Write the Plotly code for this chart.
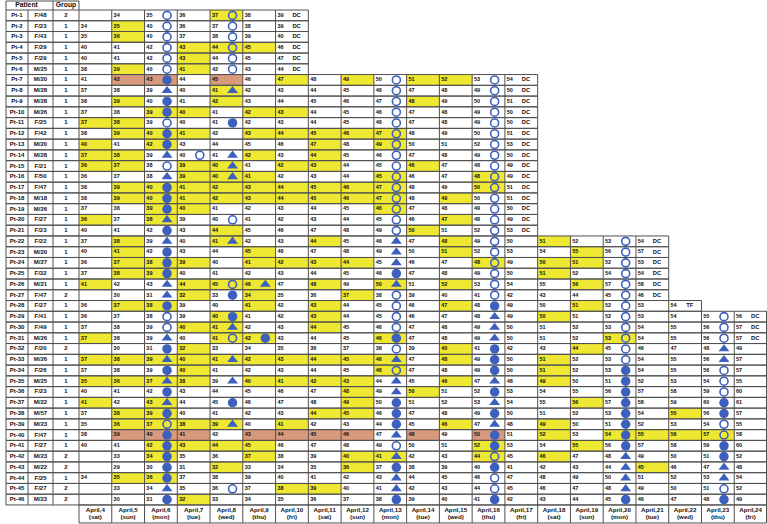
import plotly.graph_objects as go

# ---------------- data ----------------
patients = ["Pt-1", "Pt-2", "Pt-3", "Pt-4", "Pt-5", "Pt-6", "Pt-7", "Pt-8", "Pt-9", "Pt-10",
            "Pt-11", "Pt-12", "Pt-13", "Pt-14", "Pt-15", "Pt-16", "Pt-17", "Pt-18", "Pt-19", "Pt-20",
            "Pt-21", "Pt-22", "Pt-23", "Pt-24", "Pt-25", "Pt-26", "Pt-27", "Pt-28", "Pt-29", "Pt-30",
            "Pt-31", "Pt-32", "Pt-33", "Pt-34", "Pt-35", "Pt-36", "Pt-37", "Pt-38", "Pt-39", "Pt-40",
            "Pt-41", "Pt-42", "Pt-43", "Pt-44", "Pt-45", "Pt-46"]
sex_age = ["F/48", "F/23", "F/43", "F/29", "F/29", "M/25", "M/20", "M/28", "M/28", "M/26",
           "F/25", "F/42", "M/20", "M/28", "F/21", "F/50", "F/47", "M/18", "M/26", "F/27",
           "F/23", "F/22", "M/20", "M/27", "F/32", "M/21", "F/47", "F/27", "F/41", "F/49",
           "M/26", "F/20", "M/26", "F/26", "M/25", "F/23", "M/22", "M/57", "M/23", "F/47",
           "F/27", "M/23", "M/22", "F/25", "F/27", "M/23"]
groups = [2, 1, 1, 1, 1, 1, 1, 1, 1, 1,
          1, 1, 1, 1, 1, 1, 1, 1, 1, 1,
          1, 1, 1, 1, 1, 1, 2, 1, 1, 1,
          1, 2, 1, 1, 1, 1, 1, 1, 1, 1,
          1, 2, 2, 1, 2, 2]
dates = ["April,4", "April,5", "April,6", "April,7", "April,8", "April,9", "April,10",
         "April,11", "April,12", "April,13", "April,14", "April,15", "April,16", "April,17",
         "April,18", "April,19", "April,20", "April,21", "April,22", "April,23", "April,24"]
weekdays = ["(sat)", "(sun)", "(mon)", "(tue)", "(wed)", "(thu)", "(fri)",
            "(sat)", "(sun)", "(mon)", "(tue)", "(wed)", "(thu)", "(fri)",
            "(sat)", "(sun)", "(mon)", "(tue)", "(wed)", "(thu)", "(fri)"]

day_values = [
    [None, 34, 35, 36, 37, 38, 39],
    [34, 35, 40, 36, 37, 38, 39],
    [35, 36, 40, 37, 38, 39, 40],
    [40, 41, 42, 43, 44, 45, 46],
    [40, 41, 42, 43, 44, 45, 47],
    [38, 39, 40, 41, 42, 43, 44],
    [41, 42, 43, 44, 45, 46, 47, 48, 49, 50, 51, 52, 53, 54],
    [37, 38, 39, 40, 41, 42, 43, 44, 45, 46, 47, 48, 49, 50],
    [38, 39, 40, 41, 42, 43, 44, 45, 46, 47, 48, 49, 50, 51],
    [37, 38, 39, 40, 41, 42, 43, 44, 45, 46, 47, 48, 49, 50],
    [37, 38, 39, 40, 41, 42, 43, 44, 45, 46, 47, 48, 49, 50],
    [38, 39, 40, 41, 42, 43, 44, 45, 46, 47, 48, 49, 50, 51],
    [40, 41, 42, 43, 44, 45, 46, 47, 48, 49, 50, 51, 52, 53],
    [37, 38, 39, 40, 41, 42, 43, 44, 45, 46, 47, 48, 49, 50],
    [36, 37, 38, 39, 40, 41, 42, 43, 44, 45, 46, 47, 48, 49],
    [36, 37, 38, 39, 40, 41, 42, 43, 44, 45, 46, 47, 48, 49],
    [38, 39, 40, 41, 42, 43, 44, 45, 46, 47, 48, 49, 50, 51],
    [38, 39, 40, 41, 42, 43, 44, 45, 46, 47, 48, 49, 50, 51],
    [37, 38, 39, 40, 41, 42, 43, 44, 45, 46, 47, 48, 49, 50],
    [36, 37, 38, 39, 40, 41, 42, 43, 44, 45, 46, 47, 48, 49],
    [40, 41, 42, 43, 44, 45, 46, 47, 48, 49, 50, 51, 52, 53],
    [37, 38, 39, 40, 41, 42, 43, 44, 45, 46, 47, 48, 49, 50, 51, 52, 53, 54],
    [40, 41, 42, 43, 44, 45, 46, 47, 48, 49, 50, 51, 52, 53, 54, 55, 56, 57],
    [36, 37, 38, 39, 40, 41, 42, 43, 44, 45, 46, 47, 48, 49, 50, 51, 52, 53],
    [37, 38, 39, 40, 41, 42, 43, 44, 45, 46, 47, 48, 49, 50, 51, 52, 54, 54],
    [41, 42, 43, 44, 45, 46, 47, 48, 49, 50, 51, 52, 53, 54, 55, 56, 57, 58],
    [None, 30, 31, 32, 33, 34, 35, 36, 37, 38, 39, 40, 41, 42, 43, 44, 45, 46],
    [36, 37, 38, 39, 40, 41, 42, 43, 44, 45, 46, 47, 48, 49, 50, 51, 52, 53, 54],
    [36, 37, 38, 39, 40, 41, 42, 43, 44, 45, 46, 47, 48, 49, 50, 51, 52, 53, 54, 55, 56],
    [37, 38, 39, 40, 41, 42, 43, 44, 45, 46, 47, 48, 49, 50, 51, 52, 53, 54, 55, 56, 57],
    [37, 38, 39, 40, 41, 42, 43, 44, 45, 46, 47, 48, 49, 50, 51, 52, 53, 54, 55, 56, 57],
    [None, 30, 31, 32, 33, 34, 35, 36, 37, 38, 39, 40, 41, 42, 43, 44, 45, 46, 47, 48, 49],
    [37, 38, 39, 40, 41, 42, 43, 44, 45, 46, 47, 48, 49, 50, 51, 52, 53, 54, 55, 56, 57],
    [37, 38, 39, 40, 41, 42, 43, 44, 45, 46, 47, 48, 49, 50, 51, 52, 53, 54, 55, 56, 57],
    [35, 36, 37, 38, 39, 40, 41, 42, 43, 44, 45, 46, 47, 48, 49, 50, 51, 52, 53, 54, 55],
    [40, 41, 42, 43, 44, 45, 46, 47, 48, 49, 50, 51, 52, 53, 54, 55, 56, 57, 58, 59, 60],
    [41, 42, 43, 44, 45, 46, 47, 48, 49, 50, 51, 52, 53, 54, 55, 56, 57, 58, 59, 60, 61],
    [37, 38, 39, 40, 41, 42, 43, 44, 45, 46, 47, 48, 49, 50, 51, 52, 53, 54, 55, 56, 57],
    [35, 36, 37, 38, 39, 40, 41, 42, 43, 44, 45, 46, 47, 48, 49, 50, 51, 52, 53, 54, 55],
    [38, 39, 40, 41, 42, 43, 44, 45, 46, 47, 48, 49, 50, 51, 52, 53, 54, 55, 56, 57, 58],
    [40, 41, 42, 43, 44, 45, 46, 47, 48, 49, 50, 51, 52, 53, 54, 55, 56, 57, 58, 59, 60],
    [None, 33, 34, 35, 36, 37, 38, 39, 40, 41, 42, 43, 44, 45, 46, 47, 48, 49, 50, 51, 52],
    [None, 29, 30, 31, 32, 33, 34, 35, 36, 37, 38, 39, 40, 41, 42, 43, 44, 45, 46, 47, 48],
    [34, 35, 36, 37, 38, 39, 40, 41, 42, 43, 44, 45, 46, 47, 48, 49, 50, 51, 52, 53, 54],
    [None, 33, 34, 35, 36, 37, 38, 39, 40, 41, 42, 43, 44, 45, 46, 47, 48, 49, 50, 51, 52],
    [None, 30, 31, 32, 33, 34, 35, 36, 37, 38, 39, 40, 41, 42, 43, 44, 45, 46, 47, 48, 49],
]

# outcome written in the last cell of a row (DC = discharged, TF = transferred)
end_marks = ["DC"] * 27 + ["TF"] + ["DC"] * 3 + [None] * 15

# o = open circle, c = filled circle, t = filled triangle
symbols = [
    "..o.o..", "..o.o..", "..o.o..", "..o.o..", "..o.o..", "..o.o..",
    "..c......o..o.", "..t.t....o..o.", "..c......o..o.", "..c......o..o.",
    "..o.c....o..o.", "..c......o..o.", "..c......o..o.", "..tot....o..o.",
    "..o.t....o..o.", "..t.t....o..o.", "..c......o..o.", "..c......o..o.",
    "..c......o..o.", "..t.o....o..o.", "..c......o..o.",
    "..t.t....t..o...o.", "..c......t..o...o.", "..c......t..o...o.",
    "..c......c..o...o.", "..t.ot...t..o...o.", "..t.c....o..o...o.",
    "..c......o..c...o..",
    "..o.c....o..t...o..o.", "..o.t....o..t...o..o.", "..t.oc...c..t...o..o.",
    "..c......o..c...o..t.", "..t.t....t..c...o..t.", "..c......o..c...c..o.",
    "..t.t....t..t...c..o.", "..c......t..c...c..o.", "..t.c....c..t...c..c.",
    "..c......c..c...c..c.", "..o.t....c..t...c..o.", "..c......t..c...c..o.",
    "..c......o..c...c..c.", "..c......t..o...t..c.", "..c......c..c...t..t.",
    "..c......t..o...t..t.", "..t.o....t..o...t..o.", "..c......c..c...c..c.",
]

# y = yellow cell, s = salmon cell
highlights = [
    "....y..", ".y.....", ".y.....", "...yyy.", "...y...", ".y.y...",
    ".ss.s.y.y.yy..", "....y.........", ".y..y.....y...", "..yy.yy.......",
    "yy............", ".yyy.yyyyy....", "y.y....y.y....", "yy...y.y......",
    "yy.yy.yy..y...", "...yyy...y..y.", ".yyyyyyyyy..y.", ".yyyyyyyyy.y..",
    "..yy.....y....", "y.y........y..", "....y.....y...",
    ".y..y..y...y..y...", ".y...y.....y...y..", ".yyy.yyyy...y.yy..",
    ".yy...........y...", "y..yyy.y.y.y...y..", "...y.y..y.........",
    ".yy..y.y...y...y...",
    "....y..y......y......", "...yy..y.............", "y...yy...y......y....",
    "...y.......y...y.....", "yyyyyyyyyy.y..y......", "...y.....y....y......",
    "yyyy.yyyy..y..y......", "........y.y..........", "y.y.....y......y.....",
    ".yy....yy.........y..", ".yyyy.y....y..y......", ".sss.ssss.s.s.y.yyyy.",
    "..yyyy......y..y.....", "..y..y..yy..y.y......", "....y...y........y...",
    ".yy..................", "......yy.............", "...y.................",
]

# ---------------- layout constants ----------------
W, H = 767, 524
LABEL_EDGES = [6.0, 28.0, 53.0, 79.0]
DAY_W = (W - LABEL_EDGES[-1]) / len(dates)
HEAD_TOP = 1.0
ROW_TOP = 10.0
ROW_H = 10.76
FOOT_H = 18.0
FILL = {"y": "#EFE833", "s": "#D9997C"}
BLUE = "#3D5FBE"
LINE = "#505050"
FONT = "Liberation Sans, Arial, sans-serif"


def day_left(c):
    return LABEL_EDGES[-1] + c * DAY_W


gx, gy = [], []


def seg(x1, y1, x2, y2):
    gx.extend([x1, x2, None])
    gy.extend([y1, y2, None])


shapes = []
lab_x, lab_y, lab_t = [], [], []
num_x, num_y, num_t = [], [], []
mark_x, mark_y, mark_t = [], [], []
sym_pts = {"o": ([], []), "c": ([], []), "t": ([], [])}

# header
seg(LABEL_EDGES[0], HEAD_TOP, LABEL_EDGES[-1], HEAD_TOP)
for e in (LABEL_EDGES[0], LABEL_EDGES[2], LABEL_EDGES[3]):
    seg(e, HEAD_TOP, e, ROW_TOP)

n = len(patients)
for r in range(n):
    top = ROW_TOP + r * ROW_H
    bot = top + ROW_H
    cy = (top + bot) / 2
    vals = day_values[r]
    ncols = len(vals)
    right = day_left(ncols)
    seg(LABEL_EDGES[0], top, right, top)
    seg(LABEL_EDGES[0], bot, right, bot)
    for e in LABEL_EDGES:
        seg(e, top, e, bot)
    for c in range(1, ncols + 1):
        xe = min(day_left(c), W - 0.5)
        seg(xe, top, xe, bot)
    for i, txt in enumerate((patients[r], sex_age[r], str(groups[r]))):
        lab_x.append((LABEL_EDGES[i] + LABEL_EDGES[i + 1]) / 2)
        lab_y.append(cy)
        lab_t.append(txt)
    hl = highlights[r]
    sy = symbols[r]
    for c, v in enumerate(vals):
        x0 = day_left(c)
        h = hl[c] if c < len(hl) else "."
        if h in FILL:
            shapes.append(dict(type="rect", xref="x", yref="y", x0=x0, x1=x0 + DAY_W,
                               y0=top, y1=bot, fillcolor=FILL[h], line_width=0, layer="below"))
        if v is not None:
            num_x.append(x0 + 4.9)
            num_y.append(cy)
            num_t.append(str(v))
        s = sy[c] if c < len(sy) else "."
        if s in sym_pts:
            sym_pts[s][0].append(x0 + 22.5)
            sym_pts[s][1].append(cy)
    if end_marks[r]:
        mark_x.append(day_left(ncols - 1) + 21)
        mark_y.append(cy)
        mark_t.append(end_marks[r])

# footer
ftop = ROW_TOP + n * ROW_H
fbot = ftop + FOOT_H
seg(day_left(0), ftop, W - 0.5, ftop)
seg(day_left(0), fbot, W - 0.5, fbot)
foot_x = []
for c in range(len(dates) + 1):
    xe = min(day_left(c), W - 0.5)
    seg(xe, ftop, xe, fbot)
for c in range(len(dates)):
    foot_x.append(day_left(c) + DAY_W / 2)

fig = go.Figure()
fig.add_trace(go.Scatter(x=gx, y=gy, mode="lines", line=dict(color=LINE, width=1),
                         hoverinfo="skip", showlegend=False))
fig.add_trace(go.Scatter(x=sym_pts["o"][0], y=sym_pts["o"][1], mode="markers",
                         marker=dict(symbol="circle-open", size=8, color=BLUE, line=dict(width=1.6, color=BLUE)),
                         showlegend=False))
fig.add_trace(go.Scatter(x=sym_pts["c"][0], y=sym_pts["c"][1], mode="markers",
                         marker=dict(symbol="circle", size=9.5, color=BLUE, line=dict(width=0)),
                         showlegend=False))
fig.add_trace(go.Scatter(x=sym_pts["t"][0], y=sym_pts["t"][1], mode="markers",
                         marker=dict(symbol="triangle-up", size=9.5, color=BLUE, line=dict(width=0)),
                         showlegend=False))
fig.add_trace(go.Scatter(x=lab_x, y=lab_y, text=lab_t, mode="text", textposition="middle center",
                         textfont=dict(family=FONT, size=6, color="#111", weight="bold"), showlegend=False))
fig.add_trace(go.Scatter(x=num_x, y=num_y, text=num_t, mode="text", textposition="middle center",
                         textfont=dict(family=FONT, size=5.5, color="#111", weight="bold"), showlegend=False))
fig.add_trace(go.Scatter(x=mark_x, y=mark_y, text=mark_t, mode="text", textposition="middle center",
                         textfont=dict(family=FONT, size=5.8, color="#111", weight="bold"), showlegend=False))
fig.add_trace(go.Scatter(x=foot_x, y=[ftop + 5.2] * len(foot_x), text=dates, mode="text",
                         textposition="middle center",
                         textfont=dict(family=FONT, size=6.2, color="#111", weight="bold"), showlegend=False))
fig.add_trace(go.Scatter(x=foot_x, y=[ftop + 12.8] * len(foot_x), text=weekdays, mode="text",
                         textposition="middle center",
                         textfont=dict(family=FONT, size=6.2, color="#111", weight="bold"), showlegend=False))
fig.add_trace(go.Scatter(x=[(LABEL_EDGES[0] + LABEL_EDGES[2]) / 2 - 3, (LABEL_EDGES[2] + LABEL_EDGES[3]) / 2],
                         y=[(HEAD_TOP + ROW_TOP) / 2] * 2, text=["Patient", "Group"], mode="text",
                         textposition="middle center",
                         textfont=dict(family=FONT, size=6.8, color="#111", weight="bold"), showlegend=False))

fig.update_layout(width=W, height=H, margin=dict(l=0, r=0, t=0, b=0),
                  paper_bgcolor="white", plot_bgcolor="white", shapes=shapes,
                  xaxis=dict(range=[0, W], visible=False, fixedrange=True),
                  yaxis=dict(range=[H, 0], visible=False, fixedrange=True),
                  hovermode=False)
fig.write_html("out.html", config={"displayModeBar": False},
               post_script="document.body.style.margin='0';document.body.style.overflow='hidden';")
